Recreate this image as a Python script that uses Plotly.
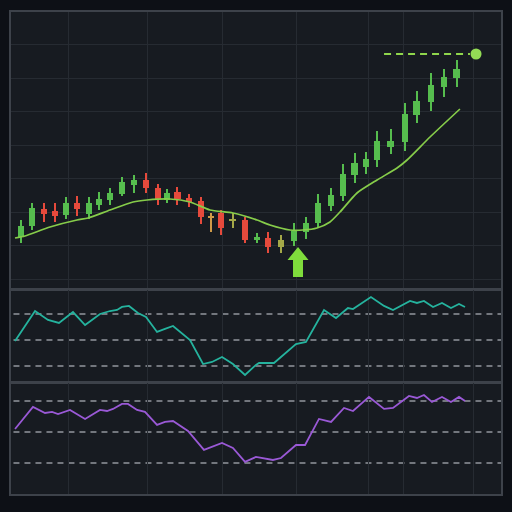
import plotly.graph_objects as go

# ---------------- data ----------------
t = [0, 0.96, 2.0, 2.96, 3.91, 4.87, 5.91, 6.78, 7.74, 8.78, 9.83, 10.87, 11.91, 12.7,
     13.57, 14.61, 15.65, 16.52, 17.39, 18.43, 19.48, 20.52, 21.48, 22.61, 23.74, 24.78,
     25.83, 26.96, 28.0, 29.04, 30.0, 30.96, 32.17, 33.39, 34.43, 35.65, 36.78, 37.91]
open_ = [113.0, 115.75, 120.0, 119.5, 118.5, 121.5, 118.75, 121.0, 122.25, 123.75, 126.0, 127.25,
         125.25, 122.25, 124.25, 122.75, 122.0, 118.25, 119.0, 117.5, 117.25, 112.25, 112.75, 110.5,
         112.0, 114.25, 116.5, 120.75, 123.25, 128.5, 130.5, 132.25, 135.5, 136.75, 143.5, 146.75,
         150.5, 152.75]
high = [117.25, 121.5, 121.5, 121.5, 123.0, 123.25, 123.0, 124.25, 125.25, 128.0, 128.5, 129.0,
        126.25, 125.0, 125.5, 123.75, 123.0, 119.0, 119.75, 119.0, 118.0, 114.0, 114.25, 113.5,
        116.5, 118.0, 123.75, 125.25, 131.25, 134.0, 134.25, 139.5, 140.0, 146.5, 149.5, 154.0,
        155.0, 157.25]
low = [111.5, 114.75, 116.75, 116.75, 117.5, 118.25, 117.5, 119.75, 121.0, 123.25, 124.0, 124.0,
       121.0, 121.5, 121.0, 120.5, 116.25, 114.25, 113.5, 115.25, 111.5, 111.5, 109.0, 109.0,
       110.75, 112.5, 115.25, 119.5, 122.0, 126.5, 128.75, 130.5, 133.75, 134.5, 141.5, 144.5,
       148.0, 150.5]
close = [115.75, 120.25, 118.75, 118.25, 121.5, 120.0, 121.5, 122.5, 124.0, 126.75, 127.25, 125.25,
         122.5, 124.0, 122.5, 121.75, 118.0, 117.75, 115.25, 117.0, 112.25, 113.0, 110.5, 112.25,
         114.5, 116.5, 121.5, 123.5, 128.75, 131.5, 132.5, 137.0, 137.0, 143.75, 147.0, 151.0,
         153.0, 155.0]
bias = ["bull", "bull", "bear", "bear", "bull", "bear", "bull", "bull", "bull", "bull", "bull", "bear",
        "bear", "bull", "bear", "bear", "bear", "doji", "bear", "weak", "bear", "bull", "bear", "weak",
        "bull", "bull", "bull", "bull", "bull", "bull", "bull", "bull", "bull", "bull", "bull", "bull",
        "bull", "bull"]

ma_t = [-0.52, 0.35, 2.52, 4.87, 5.83, 7.74, 9.74, 10.96, 12.96, 14.7, 16.43, 18.43, 20.52, 21.65,
        23.39, 24.52, 25.74, 26.87, 27.74, 29.22, 30.96, 32.7, 33.57, 35.57, 38.17]
ma = [112.75, 113.25, 115.5, 117.25, 117.75, 119.75, 121.75, 122.25, 122.5, 121.75, 119.75, 119.0,
      117.25, 116.0, 114.75, 114.75, 115.25, 116.75, 119.25, 124.0, 127.25, 130.25, 132.25, 138.0,
      145.0]

signal_index = 24
target_price = 158.75
target_start = 31.57
target_end = 39.04
target_dot = 39.57

osc1_t = [-0.52, 1.22, 2.35, 3.30, 4.52, 5.57, 6.87, 7.74, 8.35, 8.78, 9.39, 10.17, 10.87, 11.83,
          12.52, 13.22, 14.70, 15.83, 16.61, 17.48, 18.43, 19.48, 20.43, 20.70, 22.0, 23.91, 24.78,
          26.35, 27.39, 28.43, 28.87, 29.74, 30.43, 31.57, 32.35, 33.83, 34.43, 35.04, 35.83, 36.61,
          37.39, 38.09, 38.61]
osc1 = [49.2, 72.3, 65.4, 63.1, 71.5, 61.5, 70.0, 72.3, 73.1, 75.4, 76.2, 70.8, 67.7, 56.2, 58.5,
        60.8, 50.0, 31.5, 33.1, 36.9, 31.5, 23.1, 30.8, 32.3, 32.3, 46.9, 48.5, 73.1, 66.9, 74.6,
        73.8, 79.2, 83.1, 76.2, 73.1, 80.0, 78.5, 80.0, 75.4, 78.5, 74.6, 77.7, 75.4]
osc1_levels = [70, 50, 30]

osc2_t = [-0.52, 1.04, 2.09, 2.70, 3.22, 4.26, 5.57, 6.87, 7.48, 8.0, 8.78, 9.30, 10.09, 10.78,
          11.83, 12.52, 13.22, 14.52, 15.91, 17.48, 18.43, 19.48, 20.43, 21.91, 22.61, 23.91, 24.70,
          25.91, 26.96, 28.09, 28.87, 30.26, 31.57, 32.35, 33.74, 34.43, 35.04, 35.74, 36.61, 37.39,
          38.09, 38.61]
osc2 = [52.9, 74.2, 68.4, 69.4, 67.4, 71.3, 62.6, 71.3, 70.3, 72.3, 77.1, 77.1, 71.3, 69.4, 56.8,
        59.7, 60.6, 51.0, 32.6, 39.4, 34.5, 21.0, 25.8, 22.9, 24.8, 37.4, 37.4, 62.6, 59.7, 73.2,
        70.3, 83.9, 72.3, 73.2, 84.8, 82.9, 85.8, 79.0, 83.9, 79.0, 83.9, 80.0]
osc2_levels = [80, 50, 20]

price_grid = [102.5, 110.86, 119.22, 127.58, 135.94, 144.3, 152.66, 161.0]
time_grid = [4.17, 10.96, 17.48, 24.0, 30.26, 33.22, 39.39]

# ---------------- style ----------------
BG_OUT = "#0d1016"
BG_IN = "#171b21"
GRID = "#262b32"
BORDER = "#3d424a"
COLORS = {"bull": "#56bd4e", "bear": "#e64a3c", "doji": "#cf9a48", "weak": "#a4a848"}
cols = [COLORS[b] for b in bias]

fig = go.Figure()

# wicks
fig.add_trace(go.Bar(x=t, y=[h - l for h, l in zip(high, low)], base=low, width=0.14,
                     marker=dict(color=cols, line=dict(width=0)), xaxis="x", yaxis="y",
                     hoverinfo="skip"))
# bodies
fig.add_trace(go.Bar(x=t, y=[max(abs(c - o), 0.4) for o, c in zip(open_, close)],
                     base=[min(o, c) for o, c in zip(open_, close)], width=0.6,
                     marker=dict(color=cols, line=dict(width=0)), xaxis="x", yaxis="y",
                     hoverinfo="skip"))
# moving average
fig.add_trace(go.Scatter(x=ma_t, y=ma, mode="lines", line=dict(color="#86cc4a", width=1.7, shape="spline", smoothing=0.6),
                         xaxis="x", yaxis="y"))
# target line & dot
fig.add_trace(go.Scatter(x=[target_start, target_end], y=[target_price, target_price], mode="lines",
                         line=dict(color="#8fd64c", width=2, dash="7px,5px"), xaxis="x", yaxis="y"))
fig.add_trace(go.Scatter(x=[target_dot], y=[target_price], mode="markers",
                         marker=dict(color="#93dc55", size=11), xaxis="x", yaxis="y"))
# oscillators
fig.add_trace(go.Scatter(x=osc1_t, y=osc1, mode="lines", line=dict(color="#25b39e", width=1.8),
                         xaxis="x2", yaxis="y2"))
fig.add_trace(go.Scatter(x=osc2_t, y=osc2, mode="lines", line=dict(color="#9a59d6", width=1.8),
                         xaxis="x3", yaxis="y3"))

shapes = []
for lv in osc1_levels:
    shapes.append(dict(type="line", xref="x2 domain", yref="y2", x0=0.005, x1=1, y0=lv, y1=lv,
                       line=dict(color="#92969d", width=1.4, dash="6px,5px"), layer="below"))
for lv in osc2_levels:
    shapes.append(dict(type="line", xref="x3 domain", yref="y3", x0=0.005, x1=1, y0=lv, y1=lv,
                       line=dict(color="#92969d", width=1.4, dash="6px,5px"), layer="below"))
# buy-signal arrow under the signal candle
shapes.append(dict(type="path", xref="x", yref="y", xsizemode="pixel", ysizemode="pixel",
                   xanchor=t[signal_index], yanchor=low[signal_index],
                   path="M 4,-1 L 14.5,-14 L 9,-14 L 9,-31 L -1,-31 L -1,-14 L -6.5,-14 Z",
                   fillcolor="#7fdc3c", line=dict(width=0)))
fig.update_layout(shapes=shapes)

XD = [0.0215, 0.9785]
XR = [-0.87, 41.74]
xcommon = dict(domain=XD, range=XR, tickvals=time_grid, showticklabels=False, showgrid=True,
               gridcolor=GRID, gridwidth=1, zeroline=False, showline=True, linecolor=BORDER,
               linewidth=2, mirror=True, ticks="")
ycommon = dict(showticklabels=False, zeroline=False, showline=True, linecolor=BORDER,
               linewidth=2, mirror=True, ticks="")

fig.update_layout(
    width=512, height=512,
    margin=dict(l=0, r=0, t=0, b=0),
    paper_bgcolor=BG_OUT, plot_bgcolor=BG_IN,
    showlegend=False, barmode="overlay", bargap=0,
    xaxis=dict(anchor="y", **xcommon),
    xaxis2=dict(anchor="y2", matches="x", **xcommon),
    xaxis3=dict(anchor="y3", matches="x", **xcommon),
    yaxis=dict(domain=[0.4355, 0.9766], range=[100, 169.25], tickvals=price_grid, showgrid=True,
               gridcolor=GRID, gridwidth=1, **ycommon),
    yaxis2=dict(domain=[0.2539, 0.4336], range=[17.69, 88.46], showgrid=False, **ycommon),
    yaxis3=dict(domain=[0.0352, 0.2520], range=[-10.0, 97.4], showgrid=False, **ycommon),
)

fig.write_html("out.html")
